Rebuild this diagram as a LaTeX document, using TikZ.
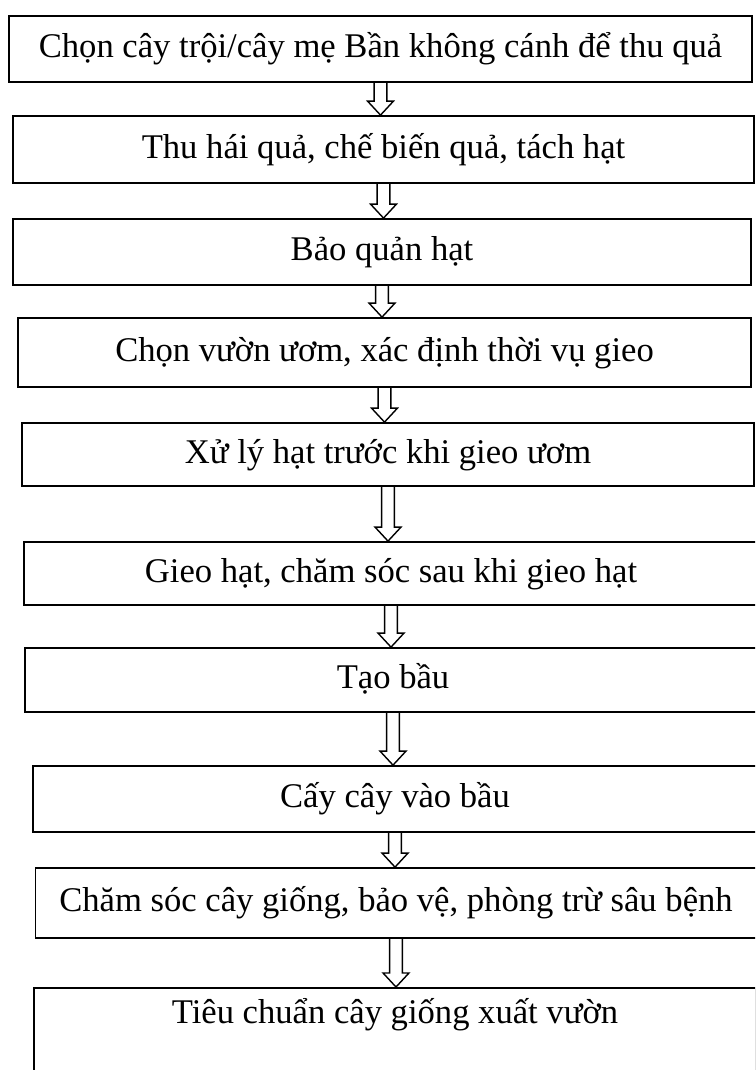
\documentclass[tikz,border=0pt]{standalone}
\usepackage{fontspec}
\setmainfont{Liberation Serif}
\usepackage{tikz}
\usetikzlibrary{calc}

\tikzset{
	stepbox/.style={draw,line width=1pt,inner sep=0pt,text height=15pt,text depth=5pt,
		font=\fontsize{19.7pt}{23pt}\selectfont},
	flowline/.style={line width=0.8pt,line join=miter}
}
\newcommand{\flowarrow}[2]{%
	\draw[flowline] let \p1=(#1.south), \p2=(#2.north) in
		(\x1-3.6pt,\y1) -- (\x1-3.6pt,\y2+8pt) -- (\x1-7.4pt,\y2+8pt) -- (\x1,\y2)
		-- (\x1+7.4pt,\y2+8pt) -- (\x1+3.6pt,\y2+8pt) -- (\x1+3.6pt,\y1);
}

\begin{document}
\begin{tikzpicture}[x=0.02cm,y=-0.02cm]
	\useasboundingbox (0,0) rectangle (755,1070);
	\clip (0,0) rectangle (755,1070);

	\node[stepbox,minimum width=14.86cm,minimum height=1.32cm] (b1) at (380.5,49){Chọn cây trội/cây mẹ Bần không cánh để thu quả};
	\node[stepbox,minimum width=14.82cm,minimum height=1.34cm] (b2) at (383.5,149.5){Thu hái quả, chế biến quả, tách hạt};
	\node[stepbox,minimum width=14.76cm,minimum height=1.32cm] (b3) at (382,252){Bảo quản hạt};
	\node[stepbox,minimum width=14.66cm,minimum height=1.38cm] (b4) at (384.5,352.5){Chọn vườn ươm, xác định thời vụ gieo};
	\node[stepbox,minimum width=14.64cm,minimum height=1.26cm] (b5) at (388,454.5){Xử lý hạt trước khi gieo ươm};
	\node[stepbox,minimum width=14.68cm,minimum height=1.26cm] (b6) at (391,573.5){Gieo hạt, chăm sóc sau khi gieo hạt};
	\node[stepbox,minimum width=14.72cm,minimum height=1.28cm] (b7) at (393,680){Tạo bầu};
	\node[stepbox,minimum width=14.48cm,minimum height=1.32cm] (b8) at (395,799){Cấy cây vào bầu};
	\node[stepbox,minimum width=14.42cm,minimum height=1.40cm] (b9) at (396,903){Chăm sóc cây giống, bảo vệ, phòng trừ sâu bệnh};
	\node[stepbox,minimum width=14.44cm,text height=20pt,text depth=30pt,anchor=north] (b10) at (395,987){Tiêu chuẩn cây giống xuất vườn};

	\foreach \a/\b in {b1/b2,b2/b3,b3/b4,b4/b5,b5/b6,b6/b7,b7/b8,b8/b9,b9/b10}{
		\flowarrow{\a}{\b}
	}
\end{tikzpicture}
\end{document}
